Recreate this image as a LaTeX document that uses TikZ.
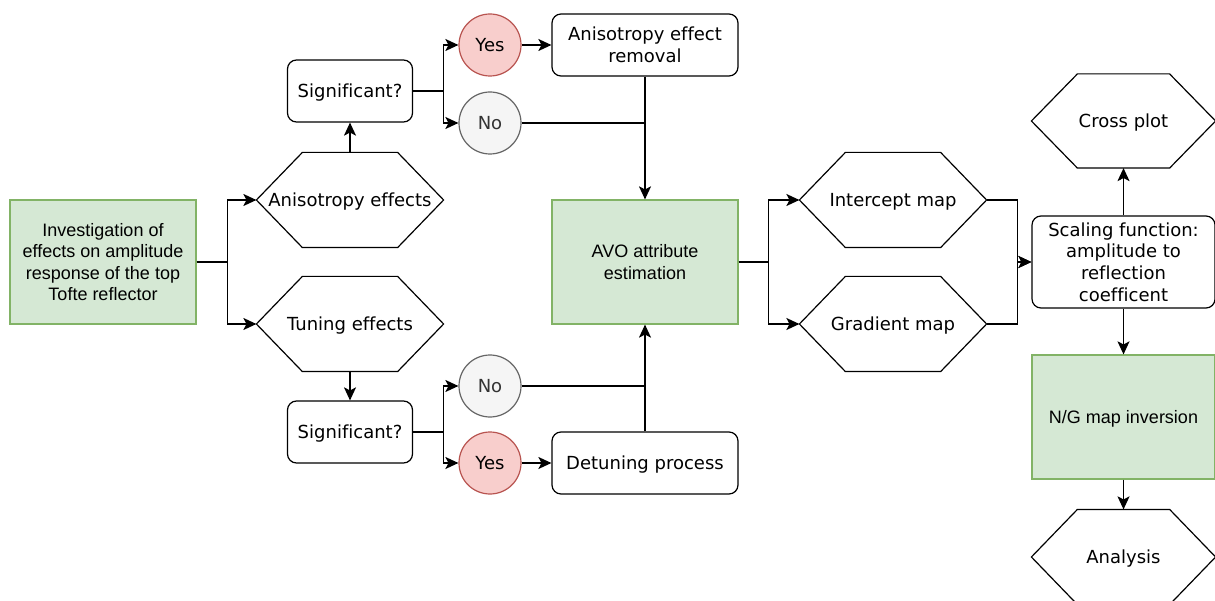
\documentclass[tikz,border=0pt]{standalone}
\usepackage{fontspec}
\setmainfont{DejaVu Sans}[Ligatures=NoCommon]
\newfontfamily\arialfont{Liberation Sans}[Ligatures=NoCommon]
\usepackage{xcolor}
\usepackage{tikz}
\usetikzlibrary{arrows.meta, positioning, calc}
\definecolor{stepgreen}{HTML}{D5E8D4}
\definecolor{stepgreenline}{HTML}{82B366}
\definecolor{yesred}{HTML}{F8CECC}
\definecolor{yesredline}{HTML}{B85450}
\definecolor{nogray}{HTML}{F5F5F5}
\definecolor{nograyline}{HTML}{666666}
\definecolor{nograytext}{HTML}{333333}

\begin{document}
\begin{tikzpicture}[x=1pt, y=-1pt, line width=1.2pt,
    every node/.style={font=\fontsize{18}{21.6}\selectfont, align=center, inner sep=0pt},
    greenbox/.style={draw=stepgreenline, fill=stepgreen, minimum width=186pt, minimum height=124pt,
        font=\arialfont\fontsize{18}{21.6}\selectfont},
    roundbox/.style={draw, rounded corners=9pt, minimum width=186pt, minimum height=62pt},
    hexbox/.style={minimum width=186pt, minimum height=94pt, text depth=0pt},
    yescirc/.style={circle, draw=yesredline, fill=yesred, minimum size=62pt, text depth=0pt},
    nocirc/.style={circle, draw=nograyline, fill=nogray, text=nograytext, minimum size=62pt, text depth=0pt},
    arr/.style={-{Stealth[length=13pt, width=12pt, inset=3pt]}}]
    \useasboundingbox (0,0) rectangle (1215,601);

    % start
    \node[greenbox] (inv) at (103,262) {Investigation of\\effects on amplitude\\response of the top\\Tofte reflector};

    % anisotropy branch
    \node[hexbox] (aniso) at (350,200) {Anisotropy effects};
    \node[roundbox, minimum width=125pt, text depth=0pt] (sigA) at (350,91) {Significant?};
    \node[yescirc] (yesA) at (490,45) {Yes};
    \node[nocirc] (noA) at (490,123) {No};
    \node[roundbox] (rem) at (645,45) {Anisotropy effect\\removal};

    % tuning branch
    \node[hexbox] (tune) at (350,324) {Tuning effects};
    \node[roundbox, minimum width=125pt, text depth=0pt] (sigT) at (350,432) {Significant?};
    \node[nocirc] (noT) at (490,386) {No};
    \node[yescirc] (yesT) at (490,463) {Yes};
    \node[roundbox, text depth=0pt] (detune) at (645,463) {Detuning process};

    % AVO
    \node[greenbox] (avo) at (645,262) {AVO attribute\\estimation};
    \node[hexbox] (icpt) at (893,200) {Intercept map};
    \node[hexbox] (grad) at (893,324) {Gradient map};

    % right column
    \node[roundbox, minimum width=183pt, minimum height=92pt] (scal) at (1123.5,262) {Scaling function:\\amplitude to\\reflection\\coefficent};
    \node[hexbox, minimum width=183pt, minimum height=93pt] (cross) at (1123.5,121) {Cross plot};
    \node[greenbox, minimum width=183pt, text depth=0pt] (ngmap) at (1123.5,417) {N/G map inversion};
    \node[hexbox, minimum width=183pt] (anal) at (1123.5,557) {Analysis};

    \foreach \h in {aniso,tune,icpt,grad,cross,anal}
        \draw (\h.west) -- ([xshift=46pt]\h.north west) -- ([xshift=-46pt]\h.north east)
            -- (\h.east) -- ([xshift=-46pt]\h.south east) -- ([xshift=46pt]\h.south west) -- cycle;

    % connectors
    \draw[arr] (inv.east) -- ++(31,0) |- (aniso.west);
    \draw[arr] (inv.east) -- ++(31,0) |- (tune.west);
    \draw[arr] (aniso.north) -- (sigA.south);
    \draw[arr] (sigA.east) -- ++(30,0) |- (yesA.west);
    \draw[arr] (sigA.east) -- ++(30,0) |- (noA.west);
    \draw[arr] (yesA.east) -- (rem.west);
    \draw[arr] (rem.south) -- (avo.north);
    \draw (noA.east) -- (noA.east -| rem.south);

    \draw[arr] (tune.south) -- (sigT.north);
    \draw[arr] (sigT.east) -- ++(30,0) |- (noT.west);
    \draw[arr] (sigT.east) -- ++(30,0) |- (yesT.west);
    \draw[arr] (yesT.east) -- (detune.west);
    \draw[arr] (detune.north) -- (avo.south);
    \draw (noT.east) -- (noT.east -| detune.north);

    \draw[arr] (avo.east) -- ++(30,0) |- (icpt.west);
    \draw[arr] (avo.east) -- ++(30,0) |- (grad.west);
    \draw[arr] (icpt.east) -- ++(31,0) |- (scal.west);
    \draw[arr] (grad.east) -- ++(31,0) |- (scal.west);
    \draw[arr] (scal.north) -- (cross.south);
    \draw[arr] (scal.south) -- (ngmap.north);
    \draw[arr] (ngmap.south) -- (anal.north);
\end{tikzpicture}
\end{document}
